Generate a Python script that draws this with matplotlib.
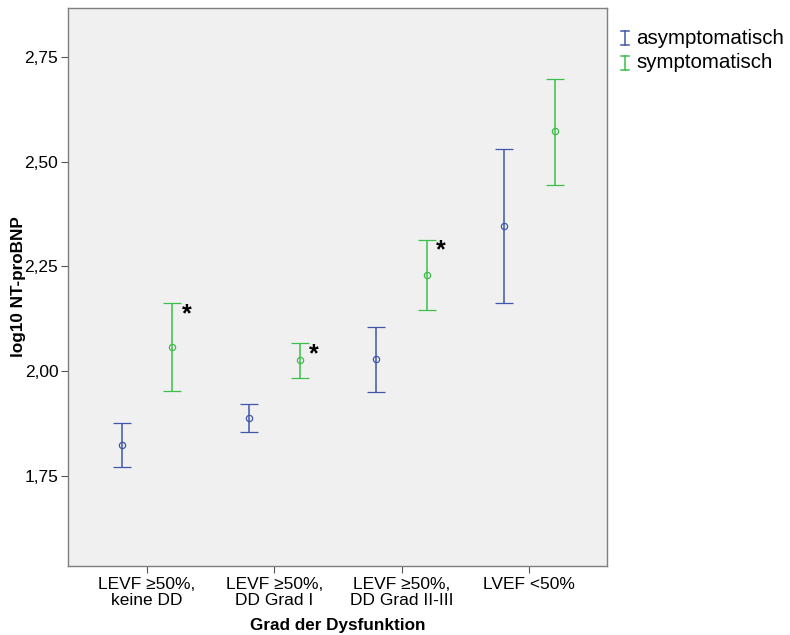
import numpy as np
import matplotlib.pyplot as plt

plt.rcParams['font.family'] = ['Liberation Sans', 'DejaVu Sans']

# Gruppen und Werte (Mittelwert mit 95%-KI, log10 NT-proBNP)
gruppen = ['LEVF \u226550%,\nkeine DD', 'LEVF \u226550%,\nDD Grad I',
           'LEVF \u226550%,\nDD Grad II-III', 'LVEF <50%']
asym_mittel = [1.823, 1.888, 2.028, 2.346]
asym_oben = [1.877, 1.921, 2.106, 2.530]
asym_unten = [1.771, 1.854, 1.950, 2.162]
sym_mittel = [2.057, 2.026, 2.230, 2.573]
sym_oben = [2.162, 2.068, 2.314, 2.698]
sym_unten = [1.952, 1.983, 2.146, 2.445]
signifikant = [True, True, True, False]

blau = '#3f57a9'
gruen = '#3cbf4a'

fig = plt.figure(figsize=(7.9, 6.35), dpi=100)
ax = fig.add_axes([68 / 790, 1 - 566 / 635, (607 - 68) / 790, (566 - 8) / 635])
ax.set_facecolor('#f0f0f0')

x = np.arange(len(gruppen))
versatz = 0.2

def zeichne(pos, mittel, oben, unten, farbe):
    mittel = np.array(mittel)
    fehler = [mittel - np.array(unten), np.array(oben) - mittel]
    ax.errorbar(pos, mittel, yerr=fehler, fmt='o', color=farbe, ecolor=farbe,
                mfc='none', mec=farbe, ms=4.5, mew=0.9, elinewidth=1.1,
                capsize=6.5, capthick=1.1)

zeichne(x - versatz, asym_mittel, asym_oben, asym_unten, blau)
zeichne(x + versatz, sym_mittel, sym_oben, sym_unten, gruen)

# Sterne fuer signifikante Unterschiede
for i, sig in enumerate(signifikant):
    if sig:
        ax.annotate('*', xy=(x[i] + versatz, sym_oben[i]), xytext=(10, -8),
                    textcoords='offset points', ha='center', va='center',
                    fontsize=18, fontweight='bold', color='black')

ax.set_xlim(-0.62, 3.61)
ax.set_ylim(1.535, 2.867)
ax.set_xticks(x)
ax.set_xticklabels(gruppen, fontsize=12.5, linespacing=1.1)
yt = [1.75, 2.00, 2.25, 2.50, 2.75]
ax.set_yticks(yt)
ax.set_yticklabels([f'{v:.2f}'.replace('.', ',') for v in yt], fontsize=12.5)
ax.tick_params(axis='both', length=5, color='#555555', width=0.8)
ax.tick_params(axis='y', pad=2)
ax.tick_params(axis='x', pad=3)
for s in ax.spines.values():
    s.set_color('#7f7f7f')
    s.set_linewidth(1.0)

ax.set_ylabel('log10 NT-proBNP', fontsize=12.3, fontweight='bold')
ax.yaxis.set_label_coords(-0.078, 0.5)
ax.set_xlabel('Grad der Dysfunktion', fontsize=12.3, fontweight='bold', labelpad=7)

# Legende rechts neben dem Diagramm
leg_ax = fig.add_axes([0, 0, 1, 1], facecolor='none')
leg_ax.axis('off')
leg_ax.set_xlim(0, 790)
leg_ax.set_ylim(635, 0)
for farbe, text, yy in [(blau, 'asymptomatisch', 38), (gruen, 'symptomatisch', 63)]:
    leg_ax.plot([625, 625], [yy - 7, yy + 7], color=farbe, lw=1.1)
    leg_ax.plot([621, 629], [yy - 7, yy - 7], color=farbe, lw=1.1)
    leg_ax.plot([621, 629], [yy + 7, yy + 7], color=farbe, lw=1.1)
    leg_ax.text(636, yy, text, fontsize=14.8, va='center', ha='left', color='black')

fig.savefig('out.png', dpi=100, facecolor='white')
